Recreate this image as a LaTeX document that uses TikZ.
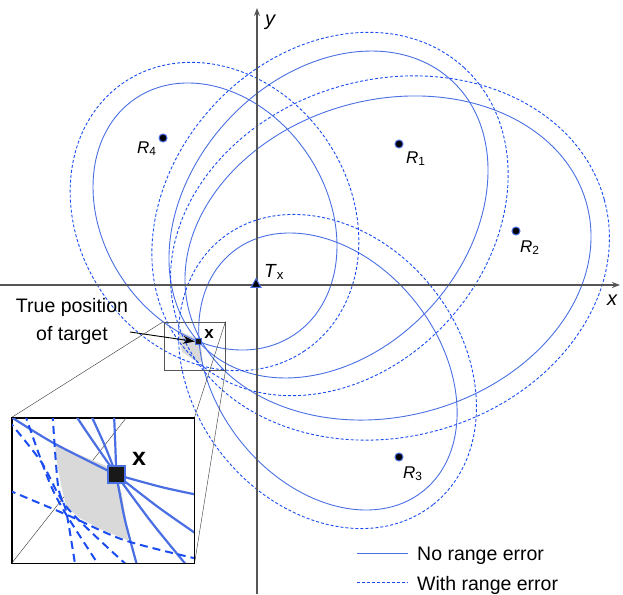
\documentclass[tikz,border=0pt]{standalone}
\usepackage{fontspec}
\setmainfont{Liberation Sans}
\usetikzlibrary{positioning,shapes.geometric,arrows.meta}
\definecolor{RangeBlue}{HTML}{4A6FE3}
\definecolor{ErrBlue}{HTML}{1A4CF2}
\definecolor{AxisGray}{HTML}{555555}
\definecolor{PatchGray}{HTML}{D9D9D9}

\begin{document}
\begin{tikzpicture}[x=1pt,y=-1pt,>={Stealth[length=8pt,width=6pt]}]
  \tikzstyle{nominal}=[draw=RangeBlue,line width=0.9pt]
  \tikzstyle{witherr}=[draw=ErrBlue,line width=0.9pt,dash pattern=on 3pt off 2pt]
  \tikzstyle{bignominal}=[draw=RangeBlue,line width=2.2pt]
  \tikzstyle{bigwitherr}=[draw=ErrBlue,line width=2pt,dash pattern=on 8pt off 5pt]
  \tikzstyle{axisline}=[draw=AxisGray,line width=1.4pt]
  \tikzstyle{rx}=[circle,fill=black,draw=RangeBlue,line width=1pt,minimum size=8pt,inner sep=0pt]
  \tikzstyle{lbl}=[inner sep=0pt,font=\fontsize{17}{20}\selectfont]
  \tikzstyle{txt}=[inner sep=0pt,font=\fontsize{19.5}{24}\selectfont]
  \useasboundingbox (0,0) rectangle (623,594);

  % uncertainty patch, main view
  \fill[PatchGray] (178.2,330.6) -- (194.9,337.8) -- (198.8,340.9) -- (201,345.6)
    -- (202.7,362.8) -- (193,359.5) -- (182.1,351.7) -- (180.4,345.6) -- (178.8,336.7) -- cycle;

  % range ellipses, one pair per receiver
  \draw[nominal,rotate around={47.6:(328.5,214.5)}] (328.5,214.5) ellipse (182 and 138);
  \draw[witherr,rotate around={47.6:(330,214)}] (330,214) ellipse (198.5 and 159.2);
  \draw[nominal,rotate around={15.2:(388,258)}] (388,258) ellipse (205.9 and 158.3);
  \draw[witherr,rotate around={15.2:(390,258)}] (390,258) ellipse (222.1 and 178.8);
  \draw[nominal,rotate around={-51.6:(327.9,371.5)}] (327.9,371.5) ellipse (152.9 and 111.8);
  \draw[witherr,rotate around={-51.6:(327.5,371.5)}] (327.5,371.5) ellipse (169.9 and 134.1);
  \draw[nominal,rotate around={-56.1:(215,216.5)}] (215,216.5) ellipse (142.3 and 111.6);
  \draw[witherr,rotate around={-56.1:(214.5,216.5)}] (214.5,216.5) ellipse (161.8 and 135.7);

  % axes
  \coordinate (xfrom) at (0,285);
  \coordinate (xto) at (620,285);
  \coordinate (yfrom) at (257,594);
  \coordinate (yto) at (257,8);
  \draw[axisline,->] (xfrom) -- (xto);
  \draw[axisline,->] (yfrom) -- (yto);
  \node[txt,font=\fontsize{20}{24}\selectfont\itshape] (xlab) at (612,300) {x};
  \node[txt,font=\fontsize{20}{24}\selectfont\itshape] (ylab) at (270,22) {y};

  % transmitter and receivers
  \node[regular polygon,regular polygon sides=3,fill=black,draw=RangeBlue,line width=1pt,
    minimum size=11.5pt,inner sep=0pt] (tx) at (256,284.5) {};
  \node[lbl,anchor=base west,font=\fontsize{19}{22}\selectfont] (txlab) at (264,277) {\textit{T}\textsubscript{x}};
  \node[rx] (r1) at (399,144) {};
  \node[rx] (r2) at (516,231) {};
  \node[rx] (r3) at (399,457) {};
  \node[rx] (r4) at (163,138) {};
  \node[lbl,anchor=base west] (r1lab) at (406,163) {\textit{R}\textsubscript{1}};
  \node[lbl,anchor=base west] (r2lab) at (520,252) {\textit{R}\textsubscript{2}};
  \node[lbl,anchor=base west] (r3lab) at (403,478) {\textit{R}\textsubscript{3}};
  \node[lbl,anchor=base west] (r4lab) at (137,153) {\textit{R}\textsubscript{4}};

  % target and zoom box
  \node[draw=AxisGray,line width=1pt,minimum width=61pt,minimum height=48pt,inner sep=0pt] (zoombox) at (194.5,346) {};
  \node[rectangle,fill=black!90,draw=RangeBlue,line width=1pt,minimum size=6.5pt,inner sep=0pt] (target) at (198.7,341.5) {};
  \node[inner sep=0pt,font=\fontsize{17}{20}\selectfont\bfseries] (xmark) at (209,334) {x};
  \node[txt,anchor=base] (truepos) at (72,312.7) {True position};
  \node[txt,anchor=base] (oftarget) at (72,340) {of target};
  \coordinate (arrtail) at (130,332);
  \draw[-{Stealth[length=12pt,width=8pt]},line width=0.9pt] (arrtail) -- (target.west);

  % magnified view
  \node[draw=black,fill=white,line width=1pt,minimum width=182pt,minimum height=145pt,inner sep=0pt] (inset) at (103,490.5) {};
  \draw[line width=0.4pt,draw=black!80] (zoombox.north west) -- (inset.north west);
  \draw[line width=0.4pt,draw=black!80] (zoombox.north east) -- (inset.north east);
  \draw[line width=0.4pt,draw=black!80] (zoombox.south east) -- (inset.south east);
  \begin{scope}
    \clip (inset.south west) rectangle (inset.north east);
    \draw[line width=0.4pt,draw=black!80] (zoombox.south west) -- (inset.south west);
    \fill[PatchGray] (54.7,443.7) -- (80,455) -- (104.7,465.3) -- (116.3,474.7) -- (122,495)
      -- (126,520) -- (128,540.3) -- (100,529) -- (80,518) -- (66.3,507) -- (61,485) -- (57,462) -- cycle;
    \draw[bignominal] plot[smooth] coordinates {(8,415) (54.7,443.7) (116.3,474.7)};
    \draw[bignominal] plot[smooth] coordinates {(74,413) (91.3,438.7) (116.3,474.7)};
    \draw[bignominal] plot[smooth] coordinates {(90,413) (104.7,445.3) (116.3,474.7)};
    \draw[bignominal] plot[smooth] coordinates {(114,413) (115.3,445.3) (116.3,474.7)};
    \draw[bignominal] plot[smooth] coordinates {(116.3,474.7) (161.3,487) (198,495)};
    \draw[bignominal] plot[smooth] coordinates {(116.3,474.7) (158,507) (198,535)};
    \draw[bignominal] plot[smooth] coordinates {(116.3,474.7) (151.3,522) (188,567)};
    \draw[bignominal] plot[smooth] coordinates {(116.3,474.7) (124.7,518.7) (137.5,567)};
    \draw[bigwitherr] plot[smooth] coordinates {(52.5,413) (58,485.3) (66.3,512) (75.5,567)};
    \draw[bigwitherr] plot[smooth] coordinates {(24.5,413) (48,478.7) (64.7,512) (100,567)};
    \draw[bigwitherr] plot[smooth] coordinates {(8,420) (41.3,462) (68,508.7) (129,567)};
    \draw[bigwitherr] plot[smooth] coordinates {(8,490) (68,515.3) (124.7,540.3) (198,559)};
  \end{scope}
  \draw[line width=1pt] (inset.south west) rectangle (inset.north east);
  \node[rectangle,fill=black!90,draw=RangeBlue,line width=2.5pt,minimum size=17pt,inner sep=0pt] (bigtarget) at (116.3,474.7) {};
  \node[inner sep=0pt,font=\fontsize{25}{28}\selectfont\bfseries] (bigxmark) at (139,459) {x};

  % legend
  \node[txt,anchor=base west] (legnom) at (417,560) {No range error};
  \node[txt,anchor=base west] (legerr) at (417,590) {With range error};
  \draw[nominal] ([xshift=-60pt,yshift=6.7pt]legnom.base west) -- ([xshift=-8.7pt,yshift=6.7pt]legnom.base west);
  \draw[witherr] ([xshift=-60pt,yshift=7.3pt]legerr.base west) -- ([xshift=-8.7pt,yshift=7.3pt]legerr.base west);
\end{tikzpicture}
\end{document}
